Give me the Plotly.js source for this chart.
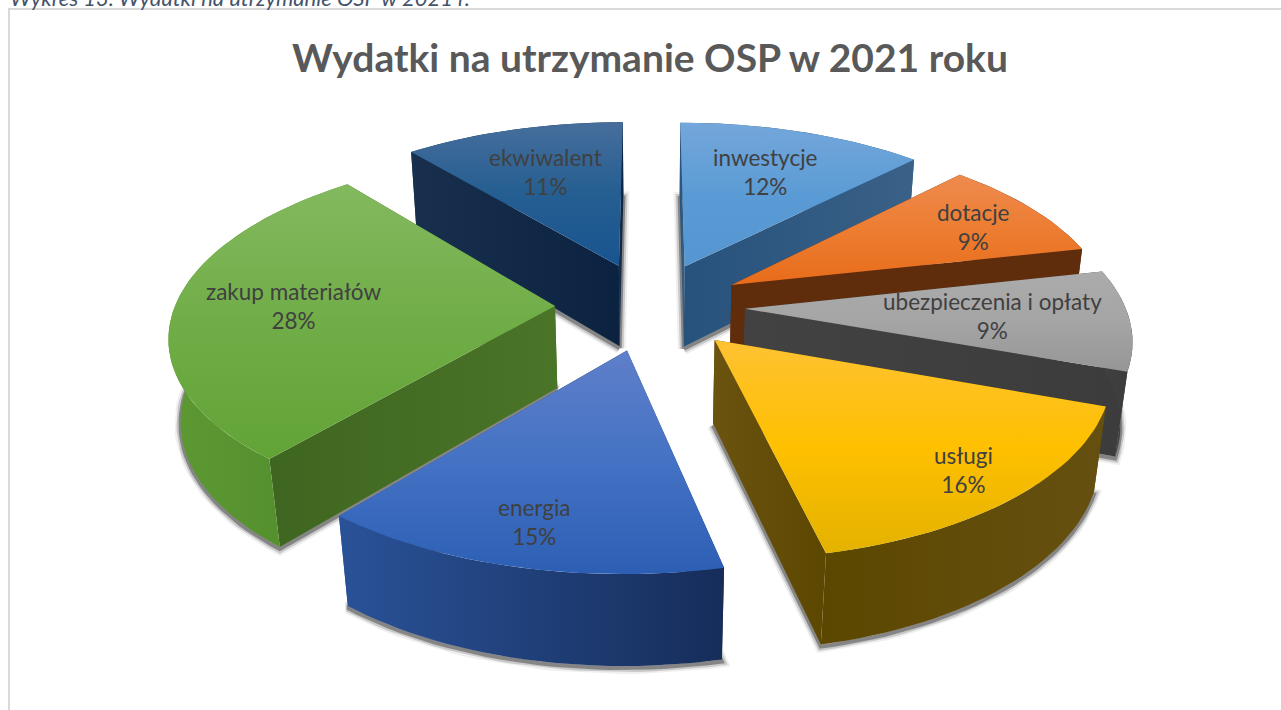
<!DOCTYPE html>
<html><head><meta charset="utf-8">
<script src="https://cdn.plot.ly/plotly-3.0.1.min.js"></script>
<style>html,body{margin:0;padding:0;background:#fff;overflow:hidden}</style>
</head><body><div id="chart" style="width:1281px;height:710px"></div>
<script>
const categories = ['inwestycje','dotacje','ubezpieczenia i opłaty','usługi','energia','zakup materiałów','ekwiwalent'];
const shares = [12.3,9.2,9.0,16.0,14.5,28.0,11.0];
const chartTitle = 'Wydatki na utrzymanie OSP w 2021 roku';
const caption = 'Wykres 13. Wydatki na utrzymanie OSP w 2021 r.';

const topColors = [['#5596d0','#5b9bd5','#74a7db'],['#e86c1a','#ed7d31','#ee8a4f'],['#969696','#a5a5a5','#ababab'],
  ['#e3b200','#ffc000','#fdc233'],['#2c5fb4','#4472c4','#5f7fc9'],['#62a336','#70ad47','#83b95f'],['#195490','#255e91','#466e9c']];
const wallColors = [['#27527c','#3a6187'],['#5f2c0c','#5f2c0c'],['#424242','#3c3c3c'],['#6b5310','#5c4700'],
  ['#2a5298','#162d5a'],['#3f6620','#4a7428'],['#18304e','#0b2340']];
const arcColors = [['#3a6187','#27527c'],['#5f2c0c','#5f2c0c'],['#424242','#3c3c3c'],['#5c4700','#665011'],
  ['#2a5298','#162d5a'],['#5d9932','#4f8a2c'],['#18304e','#0b2340']];
const labelAnchors = [[765,172],[973,227],[992,316],[963,470],[534,522],[293,306],[545,172]];

/* projection of the exploded pie */
const CX=650, CY=306, R=380, RT=176, K=0.148, M=0.025, DEPTH=84, EXPLODE=0.25, SHADOW_DROP=2;
function project(X,Y,Z){const s=1/(1+K*Y+M*Z);return [CX+R*X*s, CY-RT*Y*s+DEPTH*Z*s];}

const total = shares.reduce((a,b)=>a+b,0);
let cum=0;
const wedges = shares.map((v,i)=>{
  const a0=(cum/total)*2*Math.PI; cum+=v; const a1=(cum/total)*2*Math.PI; const mid=(a0+a1)/2;
  const ax=EXPLODE*Math.sin(mid), ay=EXPLODE*Math.cos(mid);
  const arc=[]; const n=Math.max(12,Math.round(v*2));
  for(let j=0;j<=n;j++){const t=a0+(a1-a0)*j/n; arc.push([ax+Math.sin(t),ay+Math.cos(t)]);}
  return {i,ax,ay,arc};
});
const order = wedges.slice().sort((p,q)=>q.ay-p.ay);
const traces=[];
function poly(pts,grad,type){
  traces.push({type:'scatter',mode:'lines',x:pts.map(p=>p[0]),y:pts.map(p=>p[1]),fill:'toself',
    line:{width:0},hoverinfo:'skip',showlegend:false,
    fillgradient:{type:type,colorscale:grad.map((c,k)=>[k/(grad.length-1),c])}});
}
function wall(a,b,grad){
  const up=a.map(p=>project(p[0],p[1],0)), dn=b.map(p=>project(p[0],p[1],1)).reverse();
  poly(up.concat(dn),grad,'horizontal');
}
order.forEach(w=>{
  const apex=[w.ax,w.ay], first=w.arc[0], last=w.arc[w.arc.length-1];
  const outline=[apex].concat(w.arc,[apex]).map(p=>project(p[0],p[1],1));
  [[12,'rgba(50,50,50,0.08)'],[8,'rgba(50,50,50,0.20)'],[4,'rgba(50,50,50,0.45)']].forEach(s=>{
    traces.push({type:'scatter',mode:'lines',x:outline.map(p=>p[0]),y:outline.map(p=>p[1]+SHADOW_DROP),
      line:{width:s[0],color:s[1]},hoverinfo:'skip',showlegend:false});
  });
  const walls=[{a:[apex,first],g:wallColors[w.i],d:(apex[1]+first[1])/2},
               {a:[apex,last],g:wallColors[w.i],d:(apex[1]+last[1])/2},
               {a:w.arc,g:arcColors[w.i],d:w.ay+0.6*Math.sign(w.ay||1)}];
  walls.sort((p,q)=>q.d-p.d).forEach(f=>wall(f.a,f.a,f.g));
  const top=[apex].concat(w.arc).map(p=>project(p[0],p[1],0));
  poly(top,topColors[w.i],'vertical');
});

const annotations = categories.map((c,i)=>({x:labelAnchors[i][0],y:labelAnchors[i][1],xref:'x',yref:'y',
  text:c+'<br>'+Math.round(shares[i])+'%',showarrow:false,font:{family:'Lato, sans-serif',size:22.5,color:'#404040'},align:'center',xanchor:'center',yanchor:'middle'}));
annotations.push({x:8,y:0,xref:'x',yref:'y',yshift:3,text:'<i>'+caption+'</i>',showarrow:false,xanchor:'left',yanchor:'middle',
  font:{family:'Lato, sans-serif',size:22,color:'#44546A'}});
annotations.push({x:650,y:57,xref:'x',yref:'y',text:'<b>'+chartTitle+'</b>',showarrow:false,xanchor:'center',yanchor:'middle',
  font:{family:'Lato, sans-serif',size:39,color:'#595959'}});

Plotly.newPlot('chart',traces,{
  width:1281,height:710,margin:{l:0,r:0,t:0,b:0},paper_bgcolor:'#fff',plot_bgcolor:'#fff',showlegend:false,
  xaxis:{range:[0,1281],visible:false,fixedrange:true},
  yaxis:{range:[710,0],visible:false,fixedrange:true},
  shapes:[{type:'rect',xref:'x',yref:'y',x0:9,y0:9,x1:1295,y1:725,line:{color:'#d9d9d9',width:2},fillcolor:'rgba(0,0,0,0)',layer:'below'}],
  annotations
},{displayModeBar:false,staticPlot:true});
</script></body></html>
